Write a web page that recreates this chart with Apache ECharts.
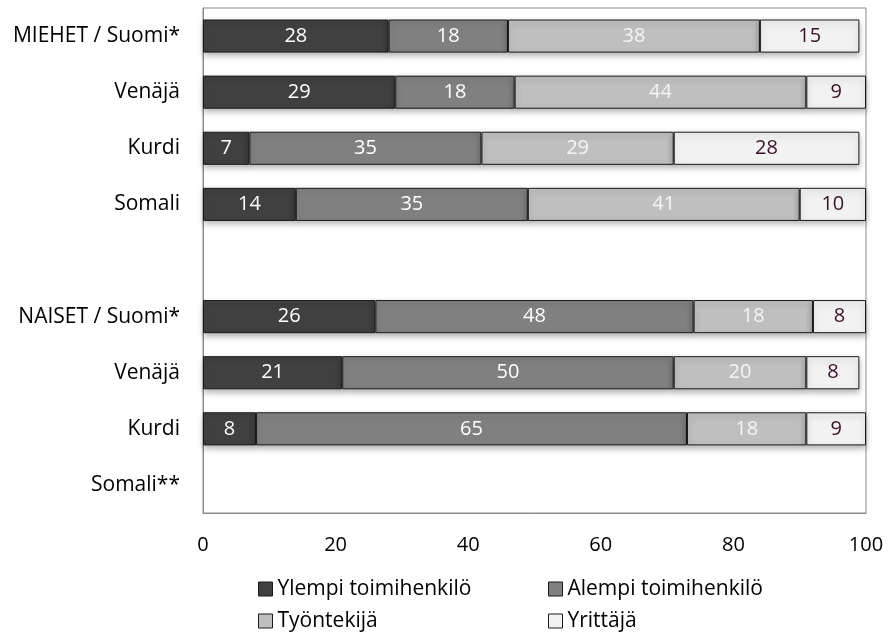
<!DOCTYPE html>
<html>
<head>
<meta charset="utf-8">
<script src="https://cdn.jsdelivr.net/npm/echarts@6/dist/echarts.min.js"></script>
<style>
  html, body { margin: 0; padding: 0; background: #fff; }
  #chart { width: 888px; height: 635px; }
</style>
</head>
<body>
<div id="chart"></div>
<script>
// Groups shown top to bottom; the empty string is a spacer row between men and women
const categories = ['MIEHET / Suomi*', 'Venäjä', 'Kurdi', 'Somali', '', 'NAISET / Suomi*', 'Venäjä ', 'Kurdi ', 'Somali**'];
const seriesNames = ['Ylempi toimihenkilö', 'Alempi toimihenkilö', 'Työntekijä', 'Yrittäjä'];
const ylempi   = [28, 29, 7, 14, null, 26, 21, 8, null];
const alempi   = [18, 18, 35, 35, null, 48, 50, 65, null];
const tyontek  = [38, 44, 29, 41, null, 18, 20, 18, null];
const yrittaja = [15, 9, 28, 10, null, 8, 8, 9, null];
const xTicks = [0, 20, 40, 60, 80, 100];

const fills = ['#404040', '#808080', '#bfbfbf', '#f2f2f2'];
const labelColors = ['#ffffff', '#ffffff', '#f5f5f5', '#3d0f2d'];
const values = [ylempi, alempi, tyontek, yrittaja];
const FONT = 'Open Sans';

const chart = echarts.init(document.getElementById('chart'), null, { renderer: 'canvas' });

const series = seriesNames.map((name, i) => ({
  name,
  type: 'bar',
  stack: 'total',
  barWidth: '59%',
  data: values[i],
  itemStyle: {
    color: fills[i],
    borderColor: '#1a1a1a',
    borderWidth: 1,
    shadowColor: 'rgba(0,0,0,0.3)',
    shadowBlur: 6,
    shadowOffsetY: 3
  },
  label: {
    show: true,
    position: 'inside',
    color: labelColors[i],
    fontFamily: FONT,
    fontSize: 20,
    formatter: p => (p.value == null ? '' : p.value)
  }
}));

// Two stacked legend columns under the plot
const legendBase = {
  orient: 'vertical',
  top: 578,
  height: 57,
  padding: 0,
  itemWidth: 14, itemHeight: 14, itemGap: 10,
  icon: 'rect',
  textStyle: { color: '#000', fontFamily: FONT, fontSize: 21, lineHeight: 22 },
  itemStyle: { borderColor: '#1a1a1a', borderWidth: 1, shadowBlur: 0, shadowOffsetY: 0 }
};

chart.setOption({
  animation: false,
  backgroundColor: '#ffffff',
  grid: { left: 203, right: 22, top: 8, bottom: 122, containLabel: false, show: true, borderColor: '#8a8a8a', borderWidth: 1 },
  xAxis: {
    type: 'value',
    min: xTicks[0],
    max: xTicks[xTicks.length - 1],
    interval: 20,
    axisLine: { show: true, lineStyle: { color: '#8a8a8a' } },
    axisTick: { show: false },
    splitLine: { show: false },
    axisLabel: { color: '#000', fontFamily: FONT, fontSize: 20, margin: 22 }
  },
  yAxis: {
    type: 'category',
    inverse: true,
    data: categories,
    axisLine: { show: true, lineStyle: { color: '#8a8a8a' } },
    axisTick: { show: false },
    axisLabel: {
      color: '#000', fontFamily: FONT, fontSize: 21, margin: 23,
      formatter: v => v.trim()
    }
  },
  legend: [
    Object.assign({}, legendBase, { left: 258, data: [seriesNames[0], seriesNames[2]] }),
    Object.assign({}, legendBase, { left: 548, data: [seriesNames[1], seriesNames[3]] })
  ],
  series
});
</script>
</body>
</html>
